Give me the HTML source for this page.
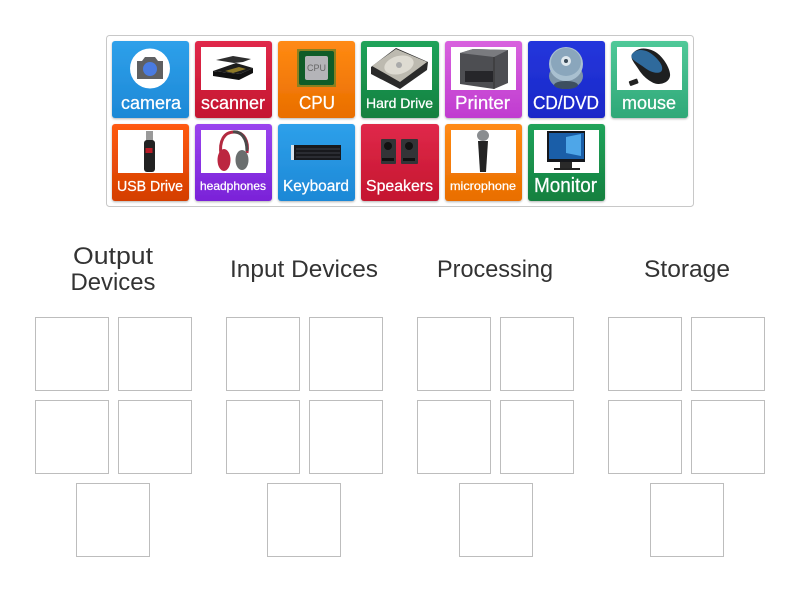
<!DOCTYPE html>
<html><head><meta charset="utf-8"><style>
html,body{margin:0;padding:0;background:#fff}
svg{display:block}
text{font-family:"Liberation Sans",sans-serif}
.h{fill:#333;font-size:24px;text-anchor:middle}
</style></head><body>
<svg width="800" height="600" viewBox="0 0 800 600" xmlns="http://www.w3.org/2000/svg">
<defs>
<linearGradient id="blue" x1="0" y1="0" x2="0" y2="1"><stop offset="0" stop-color="#2ea0ea"/><stop offset="1" stop-color="#1d88d6"/></linearGradient>
<linearGradient id="red" x1="0" y1="0" x2="0" y2="1"><stop offset="0" stop-color="#e0294a"/><stop offset="1" stop-color="#c4152f"/></linearGradient>
<linearGradient id="org" x1="0" y1="0" x2="0" y2="1"><stop offset="0" stop-color="#ff8a14"/><stop offset="1" stop-color="#e96e00"/></linearGradient>
<linearGradient id="grn" x1="0" y1="0" x2="0" y2="1"><stop offset="0" stop-color="#20a35a"/><stop offset="1" stop-color="#15803f"/></linearGradient>
<linearGradient id="pur" x1="0" y1="0" x2="0" y2="1"><stop offset="0" stop-color="#d862de"/><stop offset="1" stop-color="#c03cd0"/></linearGradient>
<linearGradient id="nav" x1="0" y1="0" x2="0" y2="1"><stop offset="0" stop-color="#2436dc"/><stop offset="1" stop-color="#1a28c8"/></linearGradient>
<linearGradient id="tea" x1="0" y1="0" x2="0" y2="1"><stop offset="0" stop-color="#50c898"/><stop offset="1" stop-color="#2fa878"/></linearGradient>
<linearGradient id="rd2" x1="0" y1="0" x2="0" y2="1"><stop offset="0" stop-color="#ff5a12"/><stop offset="1" stop-color="#d43e00"/></linearGradient>
<linearGradient id="vio" x1="0" y1="0" x2="0" y2="1"><stop offset="0" stop-color="#9a44ee"/><stop offset="1" stop-color="#7a22d8"/></linearGradient>
<filter id="sh" x="-10%" y="-10%" width="120%" height="120%"><feDropShadow dx="0" dy="1" stdDeviation="1" flood-color="#000" flood-opacity=".3"/></filter>
</defs>

<rect x="106.500" y="35.500" width="587" height="171" rx="3" fill="#fff" stroke="#c8c8c8"/>

<!-- tiles -->
<g filter="url(#sh)">
<rect x="112" y="41" width="77" height="77" rx="3" fill="url(#blue)"/>
<rect x="195" y="41" width="77" height="77" rx="3" fill="url(#red)"/>
<rect x="278" y="41" width="77" height="77" rx="3" fill="url(#org)"/>
<rect x="361" y="41" width="78" height="77" rx="3" fill="url(#grn)"/>
<rect x="445" y="41" width="77" height="77" rx="3" fill="url(#pur)"/>
<rect x="528" y="41" width="77" height="77" rx="3" fill="url(#nav)"/>
<rect x="611" y="41" width="77" height="77" rx="3" fill="url(#tea)"/>
<rect x="112" y="124" width="77" height="77" rx="3" fill="url(#rd2)"/>
<rect x="195" y="124" width="77" height="77" rx="3" fill="url(#vio)"/>
<rect x="278" y="124" width="77" height="77" rx="3" fill="url(#blue)"/>
<rect x="361" y="124" width="78" height="77" rx="3" fill="url(#red)"/>
<rect x="445" y="124" width="77" height="77" rx="3" fill="url(#org)"/>
<rect x="528" y="124" width="77" height="77" rx="3" fill="url(#grn)"/>
</g>

<!-- white image panels -->
<g fill="#fff">
<rect x="201" y="47" width="65" height="43"/>
<rect x="367" y="47" width="65" height="43"/>
<rect x="451" y="47" width="65" height="43"/>
<rect x="617" y="47" width="65" height="43"/>
<rect x="118" y="130" width="65" height="43"/>
<rect x="201" y="130" width="65" height="43"/>
<rect x="451" y="130" width="65" height="43"/>
<rect x="534" y="130" width="65" height="43"/>
</g>

<!-- camera -->
<circle cx="150" cy="68.500" r="20" fill="#fff"/>
<path d="M137 61h5l3-4h10l3 4h5v18h-26z" fill="#5f6062"/>
<circle cx="150" cy="69" r="7" fill="#4a7be0"/>

<!-- scanner -->
<path d="M213 71l27 3 13-6v5l-14 7-26-4z" fill="#111"/>
<path d="M213 71l23-8 17 5-13 6z" fill="#1c1c1c"/>
<path d="M216 60l17-4 18 3-8 3-9 1z" fill="#2e2e2e"/>
<path d="M225 71l14-4 7 2-13 4z" fill="#8f7a28"/>

<!-- CPU -->
<rect x="297" y="49" width="39" height="38" fill="#8a8020"/>
<rect x="299" y="51" width="35" height="34" rx="2" fill="#0f5c28"/>
<rect x="305" y="56" width="23" height="24" rx="2" fill="#b4b4b8"/>
<text x="316.500" y="71" font-size="9" fill="#666" text-anchor="middle">CPU</text>

<!-- hard drive -->
<path d="M371 67l25-19 32 14-1 8-27 19-29-15z" fill="#2a2a2a"/>
<path d="M372 66l24-17 31 13-27 20z" fill="#bdbab0"/>
<ellipse cx="399" cy="65" rx="15" ry="9" fill="#dedbd2" transform="rotate(-15 399 65)"/>
<circle cx="399" cy="65" r="3" fill="#aaa"/>

<!-- printer -->
<path d="M460 53l13-4 35 1 0 33-14 6-34-5z" fill="#4d4e52"/>
<path d="M460 53l13-4 35 1-14 7z" fill="#7a7b7f"/>
<path d="M494 57v32" stroke="#333" stroke-width="1"/>
<rect x="465" y="71" width="28" height="11" fill="#26262a"/>

<!-- CD -->
<ellipse cx="566" cy="76" rx="17" ry="13" fill="#7d94a8"/>
<ellipse cx="566" cy="64" rx="17" ry="17" fill="#a9c0d0"/>
<ellipse cx="566" cy="62" rx="15" ry="14" fill="#8aa6bc"/>
<circle cx="566" cy="61" r="5" fill="#dfe8ee"/>
<circle cx="566" cy="61" r="2" fill="#3a4a58"/>
<ellipse cx="566" cy="85" rx="12" ry="4" fill="#3d4f60"/>

<!-- mouse -->
<path d="M633 53c6-7 17-5 24 0s14 17 13 23-7 8-12 8-14-6-19-14-10-12-6-17z" fill="#1e1f20"/>
<path d="M632 54c5-6 14-5 21 1s10 11 9 15-9 4-17-2-16-9-13-14z" fill="#2f6a9c"/>
<rect x="629" y="80" width="9" height="5" rx="1" fill="#222" transform="rotate(-20 633 82)"/>

<!-- USB -->
<rect x="146" y="131" width="7" height="10" fill="#9a9a9a"/>
<rect x="144" y="140" width="11" height="32" rx="3" fill="#222"/>
<rect x="145.500" y="148" width="7" height="5" fill="#b81c26"/>

<!-- headphones -->
<path d="M221 155c-2-14 3-23 13-23s15 9 13 21" fill="none" stroke="#b32a40" stroke-width="3"/>
<path d="M233 132c8-1 14 6 14 19" fill="none" stroke="#4a4a4a" stroke-width="3"/>
<ellipse cx="224" cy="160" rx="6.500" ry="11" fill="#bc2640"/>
<ellipse cx="242" cy="160" rx="6.500" ry="10" fill="#6a6e6e"/>

<!-- keyboard -->
<rect x="292" y="145" width="49" height="15" fill="#18191d"/>
<rect x="291" y="145" width="3" height="15" fill="#d8e4ee"/>
<g stroke="#3b3f48" stroke-width="1"><path d="M296 149h44M296 153h44M296 157h44"/></g>

<!-- speakers -->
<rect x="381" y="139" width="15" height="25" rx="1" fill="#333437"/>
<rect x="401" y="139" width="17" height="25" rx="1" fill="#333437"/>
<circle cx="388" cy="146" r="4" fill="#111"/>
<circle cx="409" cy="146" r="4" fill="#111"/>
<rect x="382" y="158" width="12" height="3" fill="#111"/>
<rect x="403" y="158" width="12" height="3" fill="#111"/>

<!-- microphone -->
<ellipse cx="483" cy="135.500" rx="6" ry="5.500" fill="#8a8d90"/>
<path d="M478 141h10l-2 31h-6z" fill="#232323"/>

<!-- monitor -->
<rect x="547" y="131" width="38" height="31" fill="#15171c"/>
<rect x="549" y="133" width="35" height="26" fill="#1a5ea8"/>
<path d="M566 137l15-3v22l-15-3z" fill="#4ea6e8"/>
<rect x="560" y="162" width="12" height="6" fill="#2a2a2a"/>
<rect x="554" y="168" width="26" height="2" fill="#222"/>

<!-- labels -->
<g fill="#fff" text-anchor="middle" stroke="#fff" stroke-width=".25">
<text x="151" y="109" font-size="18" textLength="60" lengthAdjust="spacingAndGlyphs">camera</text>
<text x="233" y="109" font-size="18" textLength="64" lengthAdjust="spacingAndGlyphs">scanner</text>
<text x="317" y="109" font-size="18" textLength="36" lengthAdjust="spacingAndGlyphs">CPU</text>
<text x="399.500" y="108" font-size="14" textLength="67" lengthAdjust="spacingAndGlyphs">Hard Drive</text>
<text x="482.500" y="109" font-size="18" textLength="55" lengthAdjust="spacingAndGlyphs">Printer</text>
<text x="566" y="109" font-size="18" textLength="66" lengthAdjust="spacingAndGlyphs">CD/DVD</text>
<text x="649" y="109" font-size="18" textLength="54" lengthAdjust="spacingAndGlyphs">mouse</text>
<text x="150" y="191" font-size="15" textLength="66" lengthAdjust="spacingAndGlyphs">USB Drive</text>
<text x="233" y="190" font-size="12" textLength="66" lengthAdjust="spacingAndGlyphs">headphones</text>
<text x="316" y="191" font-size="16" textLength="66" lengthAdjust="spacingAndGlyphs">Keyboard</text>
<text x="399.500" y="191" font-size="16" textLength="67" lengthAdjust="spacingAndGlyphs">Speakers</text>
<text x="483" y="190" font-size="12" textLength="66" lengthAdjust="spacingAndGlyphs">microphone</text>
<text x="565.500" y="192" font-size="20" textLength="63" lengthAdjust="spacingAndGlyphs">Monitor</text>
</g>

<!-- headings -->
<text class="h" x="113" y="264" textLength="80" lengthAdjust="spacingAndGlyphs">Output</text>
<text class="h" x="113" y="290" textLength="85" lengthAdjust="spacingAndGlyphs">Devices</text>
<text class="h" x="304" y="277" textLength="148" lengthAdjust="spacingAndGlyphs">Input Devices</text>
<text class="h" x="495" y="277" textLength="116" lengthAdjust="spacingAndGlyphs">Processing</text>
<text class="h" x="687" y="277" textLength="86" lengthAdjust="spacingAndGlyphs">Storage</text>

<!-- slots -->
<g fill="#fff" stroke="#bdbdbd">
<rect x="35.500" y="317.500" width="73" height="73"/><rect x="118.500" y="317.500" width="73" height="73"/>
<rect x="35.500" y="400.500" width="73" height="73"/><rect x="118.500" y="400.500" width="73" height="73"/>
<rect x="76.500" y="483.500" width="73" height="73"/>
<rect x="226.500" y="317.500" width="73" height="73"/><rect x="309.500" y="317.500" width="73" height="73"/>
<rect x="226.500" y="400.500" width="73" height="73"/><rect x="309.500" y="400.500" width="73" height="73"/>
<rect x="267.500" y="483.500" width="73" height="73"/>
<rect x="417.500" y="317.500" width="73" height="73"/><rect x="500.500" y="317.500" width="73" height="73"/>
<rect x="417.500" y="400.500" width="73" height="73"/><rect x="500.500" y="400.500" width="73" height="73"/>
<rect x="459.500" y="483.500" width="73" height="73"/>
<rect x="608.500" y="317.500" width="73" height="73"/><rect x="691.500" y="317.500" width="73" height="73"/>
<rect x="608.500" y="400.500" width="73" height="73"/><rect x="691.500" y="400.500" width="73" height="73"/>
<rect x="650.500" y="483.500" width="73" height="73"/>
</g>
</svg>
</body></html>
